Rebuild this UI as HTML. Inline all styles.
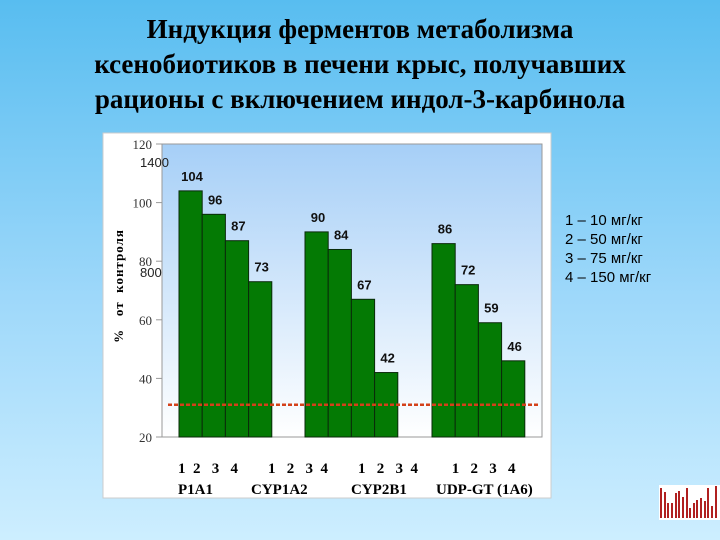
<!DOCTYPE html>
<html><head><meta charset="utf-8"><style>
html,body{margin:0;padding:0;}
body{width:720px;height:540px;overflow:hidden;background:linear-gradient(#58bdf0,#9ed8fa 55%,#cdeeff);position:relative;font-family:"Liberation Sans",sans-serif;}
.t{position:absolute;left:0;width:720px;text-align:center;font-family:"Liberation Serif",serif;font-weight:bold;font-size:27px;line-height:35px;top:12px;color:#000}
.lg{position:absolute;left:565px;top:211px;font-size:15px;line-height:19px}
</style></head><body>
<div class="t">Индукция ферментов метаболизма<br>ксенобиотиков в печени крыс, получавших<br>рационы с включением индол-3-карбинола</div>
<div class="lg">1 – 10 мг/кг<br>2 – 50 мг/кг<br>3 – 75 мг/кг<br>4 – 150 мг/кг</div>
<svg id="c" width="720" height="540" style="position:absolute;left:0;top:0">
<defs><linearGradient id="pg" x1="0" y1="0" x2="0" y2="1"><stop offset="0" stop-color="#a6cff7"/><stop offset="1" stop-color="#ffffff"/></linearGradient></defs>
<rect x="103" y="133" width="448" height="365" fill="#fff" stroke="#ccc"/>
<rect x="162" y="144" width="380" height="293" fill="url(#pg)" stroke="#999"/>
<g id="g"></g>
</svg>
<script>
const groupStarts=[179,305,432];
const values=[[104,96,87,73],[90,84,67,42],[86,72,59,46]];
const ticks=[20,40,60,80,100,120];
const refLine=31;
const y=v=>437-(v-20)*2.93;
const NS="http://www.w3.org/2000/svg",g=document.getElementById('g');
function mk(t,a,txt){const e=document.createElementNS(NS,t);for(const k in a)e.setAttribute(k,a[k]);if(txt!=null)e.textContent=txt;g.appendChild(e);return e;}
ticks.forEach(v=>{
 const t=mk('text',{x:152,y:y(v)+5,'text-anchor':'end','font-family':'Liberation Serif, serif','font-size':13,fill:'#333'},v);
 
 
 const l=mk('line',{x1:156,x2:162,y1:y(v),y2:y(v),stroke:'#999'});
 
 
});
values.forEach((s,gi)=>s.forEach((v,i)=>{
 const x=groupStarts[gi]+i*23.2;
 const r=mk('rect',{x:x,y:y(v),width:23.2,height:437-y(v),fill:'#047a04',stroke:'#0a2a0a','stroke-width':1});
 
 
 const t=mk('text',{x:x+13,y:y(v)-10,'text-anchor':'middle','font-weight':'bold','font-size':13,fill:'#111'},v);
 
 
}));
const dl=mk('line',{x1:168,x2:538,y1:y(refLine),y2:y(refLine),stroke:'#d4401a','stroke-width':2.5,'stroke-dasharray':'4,2'});


</script>
<svg width="720" height="540" style="position:absolute;left:0;top:0">
<text x="0" y="0" transform="translate(123,286) rotate(-90)" text-anchor="middle" font-family="Liberation Serif, serif" font-weight="bold" font-size="13" letter-spacing="1" xml:space="preserve">%   от  контроля</text>
<text x="140" y="167" font-size="13" fill="#222">1400</text>
<text x="140" y="277" font-size="13" fill="#222">800</text>
<g font-family="Liberation Serif, serif" font-weight="bold" font-size="15" fill="#000">
<text x="178" y="473" xml:space="preserve">1  2   3   4        1   2   3  4        1   2   3  4         1   2   3   4</text>
<text x="178" y="494">P1A1</text>
<text x="251" y="494">CYP1A2</text>
<text x="351" y="494">CYP2B1</text>
<text x="436" y="494">UDP-GT (1A6)</text>
</g>
<g>
<rect x="659" y="485" width="61" height="35" fill="#fff"/>
<g fill="#b02020">
<rect x="660" y="488" width="2" height="30"/><rect x="664" y="492" width="2" height="26"/><rect x="667" y="503" width="2" height="15"/><rect x="671" y="503" width="2" height="15"/><rect x="675" y="493" width="2" height="25"/><rect x="678" y="491" width="2" height="27"/><rect x="682" y="497" width="2" height="21"/><rect x="686" y="488" width="2" height="30"/><rect x="689" y="508" width="2" height="10"/><rect x="693" y="503" width="2" height="15"/><rect x="696" y="500" width="2" height="18"/><rect x="700" y="498" width="2" height="20"/><rect x="704" y="501" width="2" height="17"/><rect x="707" y="488" width="2" height="30"/><rect x="711" y="506" width="2" height="12"/><rect x="715" y="486" width="2" height="32"/>
</g></g>
</svg>
</body></html>
